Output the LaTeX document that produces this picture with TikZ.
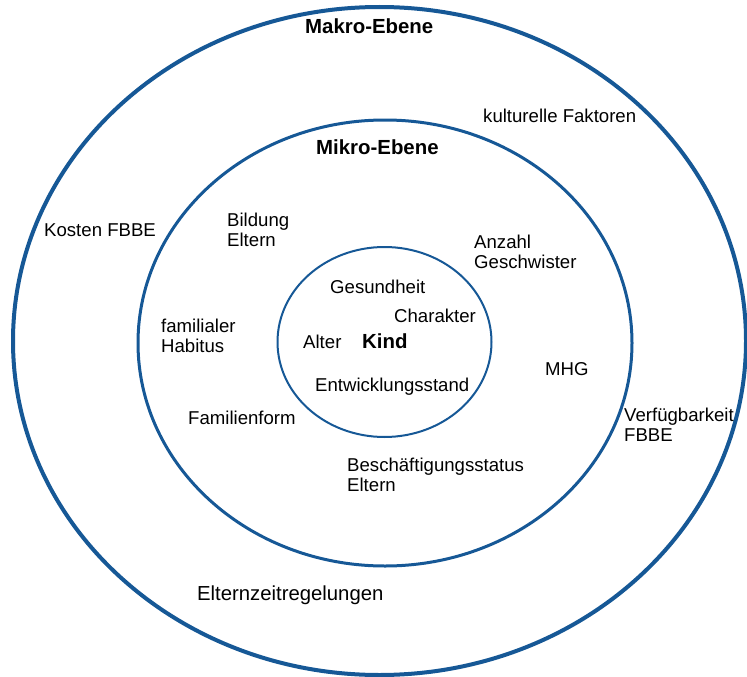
\documentclass[tikz,border=0pt]{standalone}
\usepackage{fontspec}
\setmainfont{Liberation Sans}
\usetikzlibrary{shapes.geometric}
\definecolor{ringblue}{RGB}{22,88,150}
\begin{document}
\begin{tikzpicture}[x=1pt,y=-1pt,
  ring/.style={ellipse,draw=ringblue,inner sep=0pt,fill=none},
  lbl/.style={anchor=base west,inner sep=0pt,align=left,font=\fontsize{18.6}{20}\selectfont},
  head/.style={anchor=base west,inner sep=0pt,font=\fontsize{20.4}{22}\selectfont\bfseries}]
\useasboundingbox (0,0) rectangle (747,677);
\node[ring,line width=4pt,minimum width=733pt,minimum height=668pt] (makro) at (379.5,341) {};
\node[ring,line width=3pt,minimum width=494pt,minimum height=446pt] (mikro) at (385,343) {};
\node[ring,line width=2pt,minimum width=214pt,minimum height=190pt] (kindring) at (384.5,342) {};
\node[head] (makrolbl) at (305,34) {Makro-Ebene};
\node[lbl] (kult) at (483,122) {kulturelle Faktoren};
\node[head] (mikrolbl) at (316,154) {Mikro-Ebene};
\node[lbl] (kosten) at (44,236) {Kosten FBBE};
\node[lbl] (bildung) at (227,246) {Bildung\\Eltern};
\node[lbl] (anzahl) at (474,268) {Anzahl\\Geschwister};
\node[lbl] (gesund) at (330,293) {Gesundheit};
\node[lbl] (charakter) at (394,322) {Charakter};
\node[lbl] (habitus) at (161,352) {familialer\\Habitus};
\node[lbl] (alter) at (303,348) {Alter};
\node[head] (kind) at (362,348) {Kind};
\node[lbl] (mhg) at (545,375) {MHG};
\node[lbl] (entw) at (315,391) {Entwicklungsstand};
\node[lbl] (famform) at (188,424) {Familienform};
\node[lbl] (verf) at (624,441) {Verfügbarkeit\\FBBE};
\node[lbl] (besch) at (347,491) {Beschäftigungsstatus\\Eltern};
\node[lbl,font=\fontsize{20.3}{22}\selectfont] (elternzeit) at (197,600) {Elternzeitregelungen};
\end{tikzpicture}
\end{document}
